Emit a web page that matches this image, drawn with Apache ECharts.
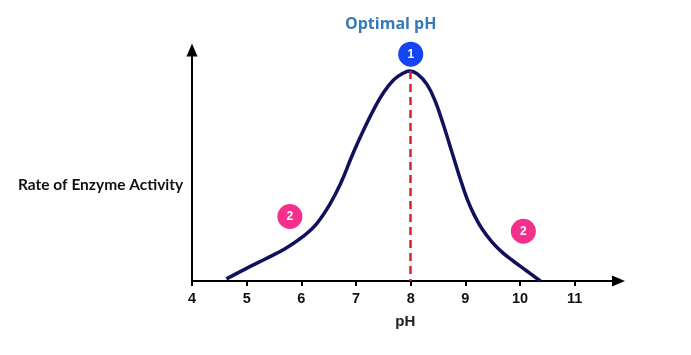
<!DOCTYPE html>
<html>
<head>
<meta charset="utf-8">
<script src="https://cdn.jsdelivr.net/npm/echarts@6/dist/echarts.min.js"></script>
<style>
html,body{margin:0;padding:0;background:#fff;}
#chart{width:691px;height:355px;}
</style>
</head>
<body>
<div id="chart"></div>
<script>
// ---- data ----
const titleText = 'Optimal pH';
const yAxisTitle = 'Rate of Enzyme Activity';
const xAxisTitle = 'pH';
const tickValues = [4, 5, 6, 7, 8, 9, 10, 11];
const phValues = [4.63, 4.98, 5.35, 5.71, 6.02, 6.27, 6.52, 6.72, 6.94, 7.14, 7.33, 7.51, 7.69, 7.85, 7.98, 8.12, 8.30, 8.45, 8.59, 8.77, 8.92, 9.04, 9.16, 9.30, 9.48, 9.68, 9.88, 10.11, 10.37];
const activity = [1.0, 5.8, 10.6, 15.5, 21, 27, 36.5, 46.5, 60.5, 72, 82, 90, 95.8, 98.8, 100, 98.6, 93.5, 85.5, 75, 60, 47.5, 38.5, 31.5, 25, 18.8, 13.5, 9.4, 5.0, 0];
const optimumPH = 8;
const optimumActivity = 100;
const markerPH = [8, 5.79, 10.06];
const markerY = [108, 30.7, 23.7];
const markerLabels = ['1', '2', '2'];

const chart = echarts.init(document.getElementById('chart'));
const curveData = phValues.map((p, i) => [p, activity[i]]);
const markerColors = ['#1444f4', '#f42f8c', '#f42f8c'];
const markerData = markerPH.map((p, i) => ({
  value: [p, markerY[i]],
  name: markerLabels[i],
  itemStyle: { color: markerColors[i], opacity: 1 }
}));

chart.setOption({
  animation: false,
  backgroundColor: '#ffffff',
  title: [
    {
      text: titleText,
      left: 340, top: 11,
      textStyle: { fontFamily: 'Open Sans', fontWeight: 'bold', fontSize: 16, color: '#3479ba' }
    },
    {
      text: yAxisTitle,
      left: 13, top: 172,
      textStyle: { fontFamily: 'Lato', fontWeight: 'bold', fontSize: 15.5, color: '#111' }
    }
  ],
  grid: { left: 192, right: 72.5, top: 50, bottom: 74 },
  xAxis: {
    type: 'value',
    min: 4, max: 11.8,
    name: xAxisTitle,
    nameLocation: 'middle',
    nameGap: 33,
    nameTextStyle: { fontFamily: 'Liberation Sans', fontWeight: 'bold', fontSize: 15, color: '#222' },
    axisLine: { onZero: false, symbol: ['none', 'triangle'], symbolSize: [11, 13], lineStyle: { color: '#000', width: 2 } },
    axisTick: { show: true, length: 5, customValues: tickValues, lineStyle: { color: '#000', width: 2 } },
    axisLabel: { customValues: tickValues, margin: 10, fontFamily: 'Liberation Sans', fontWeight: 'bold', fontSize: 14.5, color: '#111' },
    splitLine: { show: false }
  },
  yAxis: {
    type: 'value',
    min: 0, max: 110,
    axisLine: { show: true, onZero: false, symbol: ['none', 'triangle'], symbolSize: [11, 13], lineStyle: { color: '#000', width: 2 } },
    axisTick: { show: false },
    axisLabel: { show: false },
    splitLine: { show: false }
  },
  series: [
    {
      type: 'line',
      data: curveData,
      smooth: 0.4,
      showSymbol: false,
      lineStyle: { color: '#10105c', width: 3.5 },
      z: 2,
      markLine: {
        silent: true,
        symbol: ['none', 'none'],
        label: { show: false },
        lineStyle: { color: '#d8232a', width: 2.5, type: [8, 5] },
        data: [[{ coord: [optimumPH, optimumActivity] }, { coord: [optimumPH, 0] }]],
        z: 3
      }
    },
    {
      type: 'scatter',
      data: markerData,
      symbolSize: 25,
      z: 4,
      itemStyle: { opacity: 1 },
      label: {
        show: true,
        position: 'inside',
        formatter: p => p.name,
        color: '#fff',
        fontFamily: 'Liberation Sans',
        fontWeight: 'bold',
        fontSize: 12
      }
    }
  ]
});
</script>
</body>
</html>
